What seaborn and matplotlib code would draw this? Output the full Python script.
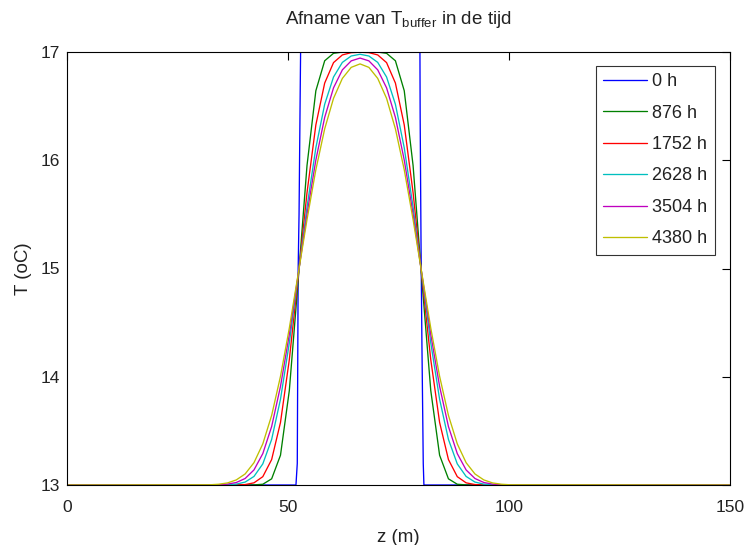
import matplotlib
matplotlib.use("Agg")
import matplotlib.pyplot as plt
import seaborn as sns
import pandas as pd

# ---- data ----
labels = ["0 h", "876 h", "1752 h", "2628 h", "3504 h", "4380 h"]
colors = ["#0000ff", "#008000", "#ff0000", "#00bfbf", "#bf00bf", "#bfbf00"]

z_blue = [0.0, 51.8, 52.1, 52.3, 52.5, 52.8, 52.85, 79.85, 79.9, 80.1, 80.3, 80.6, 80.75, 150.0]
T_blue = [13.0, 13.0, 13.2, 15.0, 15.5, 16.8, 17.0, 17.0, 16.4, 15.2, 14.3, 13.2, 13.0, 13.0]

z_grid = [0.0, 32.3, 34.3, 36.3, 38.3, 40.3, 42.3, 44.3, 46.3, 48.3, 50.3, 52.3, 54.3,
          56.3, 58.3, 60.3, 62.3, 64.3, 66.3, 68.3, 70.3, 72.3, 74.3, 76.3,
          78.3, 80.3, 82.3, 84.3, 86.3, 88.3, 90.3, 92.3, 94.3, 96.3, 98.3, 100.3, 150.0]

T_876 = [13.0, 13.0, 13.0, 13.0, 13.0, 13.0, 13.001, 13.007, 13.057, 13.275, 13.873, 14.887, 15.951,
         16.642, 16.919, 16.988, 16.999, 17.0, 17.0, 17.0, 16.999, 16.988, 16.919, 16.642,
         15.951, 14.887, 13.873, 13.275, 13.057, 13.007, 13.001, 13.0, 13.0, 13.0, 13.0, 13.0, 13.0]
T_1752 = [13.0, 13.0, 13.0, 13.0, 13.001, 13.004, 13.020, 13.077, 13.235, 13.578, 14.158, 14.920, 15.700,
          16.326, 16.713, 16.902, 16.973, 16.994, 16.998, 16.994, 16.973, 16.902, 16.713, 16.326,
          15.700, 14.920, 14.158, 13.578, 13.235, 13.077, 13.020, 13.004, 13.001, 13.0, 13.0, 13.0, 13.0]
T_2628 = [13.0, 13.0, 13.0, 13.002, 13.008, 13.027, 13.079, 13.195, 13.421, 13.792, 14.313, 14.936, 15.567,
          16.115, 16.517, 16.769, 16.904, 16.963, 16.979, 16.963, 16.904, 16.769, 16.517, 16.115,
          15.567, 14.936, 14.313, 13.792, 13.421, 13.195, 13.079, 13.027, 13.008, 13.002, 13.0, 13.0, 13.0]
T_3504 = [13.0, 13.0, 13.002, 13.008, 13.023, 13.060, 13.139, 13.290, 13.540, 13.911, 14.391, 14.943, 15.502,
          16.002, 16.396, 16.669, 16.835, 16.918, 16.944, 16.918, 16.835, 16.669, 16.396, 16.002,
          15.502, 14.943, 14.391, 13.911, 13.540, 13.290, 13.139, 13.060, 13.023, 13.008, 13.002, 13.0, 13.0]
T_4380 = [13.0, 13.002, 13.007, 13.019, 13.047, 13.102, 13.206, 13.380, 13.643, 14.004, 14.450, 14.949, 15.452,
          15.912, 16.290, 16.572, 16.756, 16.858, 16.890, 16.858, 16.756, 16.572, 16.290, 15.912,
          15.452, 14.949, 14.450, 14.004, 13.643, 13.380, 13.206, 13.102, 13.047, 13.019, 13.007, 13.002, 13.0]

x_ticks = [0, 50, 100, 150]
y_ticks = [13, 14, 15, 16, 17]

# ---- build long-form table ----
frames = [pd.DataFrame({"z": z_blue, "T": T_blue, "t": labels[0]})]
for lab, vals in zip(labels[1:], [T_876, T_1752, T_2628, T_3504, T_4380]):
    frames.append(pd.DataFrame({"z": z_grid, "T": vals, "t": lab}))
df = pd.concat(frames, ignore_index=True)

sns.set_theme(style="white")
plt.rcParams["font.family"] = ["Liberation Sans", "DejaVu Sans"]
plt.rcParams["mathtext.fontset"] = "custom"
plt.rcParams["mathtext.rm"] = "Liberation Sans"
plt.rcParams["mathtext.it"] = "Liberation Sans:italic"
plt.rcParams["mathtext.bf"] = "Liberation Sans:bold"

fig = plt.figure(figsize=(7.45, 5.45), dpi=100)
ax = fig.add_axes([67 / 745, 1 - 485 / 545, (730 - 67) / 745, (485 - 52) / 545])

sns.lineplot(data=df, x="z", y="T", hue="t", hue_order=labels, palette=colors,
             estimator=None, sort=True, linewidth=0.95, ax=ax)

ax.set_xlim(0, 150)
ax.set_ylim(13, 17)
ax.set_xticks(x_ticks)
ax.set_yticks(y_ticks)
ax.set_xticklabels([str(v) for v in x_ticks])
ax.set_yticklabels([str(v) for v in y_ticks])
ax.tick_params(direction="in", top=True, right=True, length=6, width=0.8,
               color="black", labelsize=12.5, labelcolor="#222222")
ax.tick_params(axis="x", pad=11)
ax.tick_params(axis="y", pad=5)
for sp in ax.spines.values():
    sp.set_color("black")
    sp.set_linewidth(0.8)
    sp.set_zorder(3)

ax.set_xlabel("z (m)", fontsize=13.5, labelpad=10, color="#222222")
ax.set_ylabel("T (oC)", fontsize=13.5, labelpad=6.5, color="#222222")
ax.set_title(r"Afname van T$_{\mathrm{buffer}}$ in de tijd", fontsize=13.5, pad=20, color="#222222")

leg = ax.legend(loc="upper right", bbox_to_anchor=(0.977, 0.968), borderaxespad=0,
                frameon=True, fancybox=False, edgecolor="black", fontsize=13,
                handlelength=2.4, handletextpad=0.32, labelspacing=0.8, borderpad=0.4)
leg.get_frame().set_linewidth(0.8)
for t in leg.get_texts():
    t.set_color("#222222")

fig.savefig("out.png", dpi=100)
